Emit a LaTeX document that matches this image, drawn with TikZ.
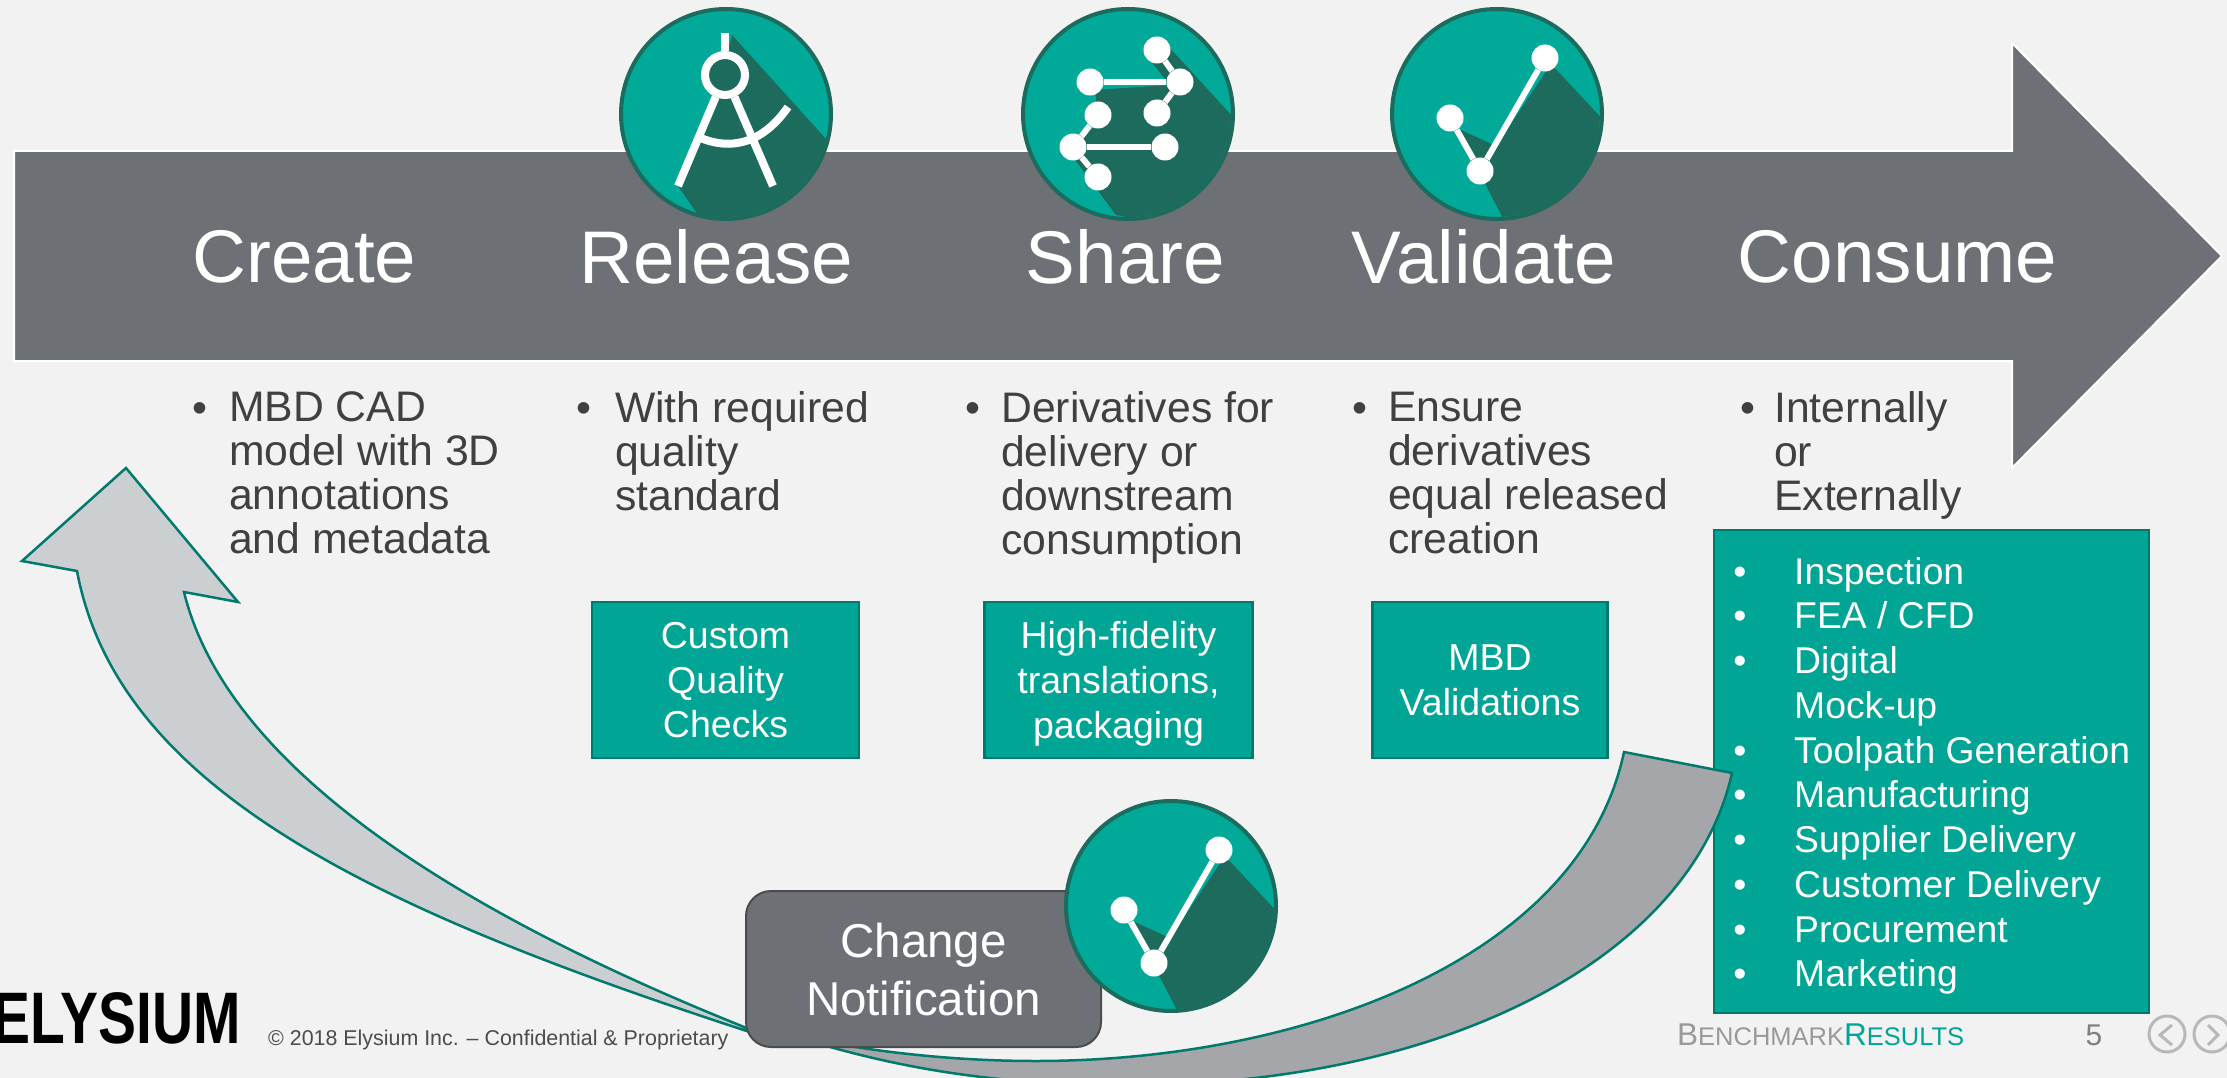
\documentclass[tikz,border=0pt]{standalone}
\usepackage{fontspec}
\setmainfont{Liberation Sans}
\usetikzlibrary{calc,positioning}
\definecolor{mbg}{HTML}{F2F2F2}
\definecolor{mgrey}{HTML}{6D7075}
\definecolor{mteal}{HTML}{00A595}
\definecolor{mbadge}{HTML}{00A998}
\definecolor{mdark}{HTML}{1D6B5D}
\definecolor{mline}{HTML}{007A6C}
\definecolor{mtext}{HTML}{404040}
\definecolor{mpale}{HTML}{CBCFD2}
\definecolor{mmid}{HTML}{A5A6A9}
\tikzstyle{l2}=[line width=2.5]
\tikzstyle{stage}=[text=white, inner sep=0pt, font=\fontsize{74.6}{80}\selectfont]
\tikzstyle{note}=[text=mtext, inner sep=0pt, align=left, anchor=north west, font=\fontsize{42.7}{44}\selectfont]
\tikzstyle{dotnote}=[text=mtext, inner sep=0pt, anchor=base, font=\fontsize{42.7}{44}\selectfont]
\tikzstyle{tealbox}=[draw=mline, fill=mteal, l2, text=white, align=center, inner sep=0pt, font=\fontsize{37.5}{44.6}\selectfont]
\tikzstyle{item}=[text=white, inner sep=0pt, anchor=base west, font=\fontsize{37.3}{44}\selectfont]
\tikzstyle{dotitem}=[text=white, inner sep=0pt, anchor=base, font=\fontsize{37.3}{44}\selectfont]
\tikzstyle{badge}=[circle, draw=mdark, fill=mbadge, line width=4, minimum size=210, inner sep=0pt]
\tikzstyle{knob}=[circle, fill=white, inner sep=0pt]
\tikzstyle{spoke}=[draw=white, line width=6]
\tikzstyle{swoosh}=[draw=mline, l2, line join=miter]
\tikzstyle{footer}=[inner sep=0pt, anchor=base west]
\tikzstyle{navkey}=[draw=black!28, line width=3]
\newcommand{\checkicon}[2]{
    \begin{scope}[shift={#2}]
        \node (#1) [badge] at (0,0) {};
        \begin{scope}
            \clip (0,0) circle[radius=103];
            \fill[mdark] (54,-50) -- (110,10) -- (110,110) -- (8,108) -- (-17,60) -- (-45,12) -- (-1,32) -- cycle;
        \end{scope}
        \node (#1a) [knob, minimum size=27] at (48,-56) {};
        \node (#1b) [knob, minimum size=27] at (-47,4) {};
        \node (#1c) [knob, minimum size=27] at (-17,57) {};
        \draw[spoke] (#1a) -- (#1c);
        \draw[spoke] (#1b) -- (#1c);
    \end{scope}
}

\begin{document}
\begin{tikzpicture}[x=1pt, y=-1pt]

    \path[use as bounding box, fill=mbg] (0,0) rectangle (2227,1078);
    \clip (0,0) rectangle (2227,1078);

    % main arrow
    \draw[fill=mgrey, draw=white, line width=2] (14,151) -- (2012,151) -- (2012,43) -- (2222,256) -- (2012,468) -- (2012,361) -- (14,361) -- cycle;

    \node (create) [stage] at (304.5,257) {Create};
    \node (release) [stage] at (716.5,257) {Release};
    \node (share) [stage] at (1125.5,257) {Share};
    \node (validate) [stage] at (1484,257) {Validate};
    \node (consume) [stage] at (1897.5,257) {Consume};

    \node (d1) [dotnote] at (200,422) {•};
    \node (d2) [dotnote] at (584,422) {•};
    \node (d3) [dotnote] at (973,422) {•};
    \node (d4) [dotnote] at (1360,422) {•};
    \node (d5) [dotnote] at (1748,422) {•};
    \node (n1) [note] at (229,391.6) {MBD CAD\\model with 3D\\annotations\\and metadata};
    \node (n2) [note] at (615,391.6) {With required\\quality\\standard};
    \node (n3) [note] at (1001,391.6) {Derivatives for\\delivery or\\downstream\\consumption};
    \node (n4) [note] at (1388,391.6) {Ensure\\derivatives\\equal released\\creation};
    \node (n5) [note] at (1774,391.6) {Internally\\or\\Externally};

    \node (b1) [tealbox, text depth=-3pt, minimum width=267, minimum height=156] at (725.5,680) {Custom\\Quality\\Checks};
    \node (b2) [tealbox, text depth=0pt, minimum width=268, minimum height=156] at (1118.5,680) {High-fidelity\\translations,\\packaging};
    \node (b3) [tealbox, minimum width=235, minimum height=156] at (1490,680) {MBD\\Validations};

    \node (b4) [tealbox, minimum width=435, minimum height=483] at (1931.5,771.5) {};
    \foreach \i/\lbl in {0/Inspection,1/{FEA / CFD},2/Digital,3/Mock-up,4/Toolpath Generation,5/Manufacturing,6/Supplier Delivery,7/Customer Delivery,8/Procurement,9/Marketing}{
            \node (i\i) [item] at (1794,584+44.75*\i) {\lbl};
        }
    \foreach \i in {0,1,2,4,5,6,7,8,9}{
            \node (k\i) [dotitem] at (1740,584+44.75*\i) {•};
        }

    % return arrow
    \draw[swoosh, fill=mpale] (790,1045) .. controls (400,920) and (120,800) .. (77,571) -- (22,561) -- (126,468) -- (238,602) -- (184,592) .. controls (230,780) and (490,930) .. (790,1045) -- cycle;
    \draw[swoosh, fill=mmid] (1624,752) .. controls (1580,960) and (1300,1061) .. (1036,1061) .. controls (945,1061) and (860,1050) .. (790,1035) .. controls (900,1070) and (1000,1085) .. (1130,1085) .. controls (1440,1085) and (1690,960) .. (1732,773) -- cycle;

    \node (change) [draw=black!70, fill=mgrey, line width=2, rounded corners=25, minimum width=355, minimum height=156, text=white, align=center, inner sep=0pt, text depth=-3pt, font=\fontsize{47.5}{58}\selectfont] at (923.5,969) {Change\\Notification};

    % compass
    \node (bc1) [badge] at (726,114) {};
    \begin{scope}
        \clip (726,114) circle[radius=103];
        \fill[mdark] (732,35) -- (845,160) -- (840,240) -- (705,225) -- (678,186) -- (718,92) -- cycle;
    \end{scope}
    \node (ring) [circle, draw=white, fill=mdark, line width=8, minimum size=40, inner sep=0pt] at (725,75) {};
    \draw[spoke, line width=8] (725,33) -- (ring);
    \draw[spoke, line width=8] (ring) -- (678,186);
    \draw[spoke, line width=8] (ring) -- (773,186);
    \draw[spoke, line width=8] (700.6,138) .. controls (735,152) and (765,140) .. (788,107);

    % share
    \node (bc2) [badge] at (1128,114) {};
    \begin{scope}
        \clip (1128,114) circle[radius=103];
        \fill[mdark] (1167,45) -- (1245,130) -- (1245,240) -- (1116,215) -- (1073,157) -- (1098,115) -- (1095,90) -- (1170,85) -- (1150,60) -- cycle;
    \end{scope}
    \foreach \nm/\px/\py in {s1/1157/50,s2/1180/82,s3/1090/82,s4/1157/113,s5/1098/115,s6/1073/147,s7/1165/147,s8/1098/177}{
            \node (\nm) [knob, minimum size=27] at (\px,\py) {};
        }
    \draw[spoke] (s1) -- (s2);
    \draw[spoke] (s3) -- (s2);
    \draw[spoke] (s2) -- (s4);
    \draw[spoke] (s5) -- (s6);
    \draw[spoke] (s6) -- (s7);
    \draw[spoke] (s6) -- (s8);

    \checkicon{cv}{(1497,114)}
    \checkicon{cn}{(1171,906)}

    % footer
    \node (logo) [anchor=east, inner sep=0pt, xscale=.78, transform shape, font=\fontsize{73}{73}\selectfont\bfseries] at (241,1018) {ELYSIUM};
    \node (copy) [footer, text=black!70, font=\fontsize{21.4}{24}\selectfont] at (268,1045) {© 2018 Elysium Inc. – Confidential \& Proprietary};
    \node (bench) [footer, text=black!40] at (1677,1045) {\fontsize{31.5}{31}\selectfont B\fontsize{25.5}{31}\selectfont ENCHMARK\textcolor{mteal}{\fontsize{31.5}{31}\selectfont R\fontsize{25.5}{31}\selectfont ESULTS}};
    \node (page) [inner sep=0pt, anchor=base, text=black!50, font=\fontsize{30}{30}\selectfont] at (2094,1045) {5};

    \node (navl) [circle, navkey, minimum size=36, inner sep=0pt] at (2167,1034) {};
    \node (navr) [circle, navkey, minimum size=36, inner sep=0pt] at (2212,1034) {};
    \draw[navkey] (2172,1025) -- (2160,1035) -- (2172,1045);
    \draw[navkey] (2208,1025) -- (2218,1035) -- (2208,1045);

\end{tikzpicture}
\end{document}
